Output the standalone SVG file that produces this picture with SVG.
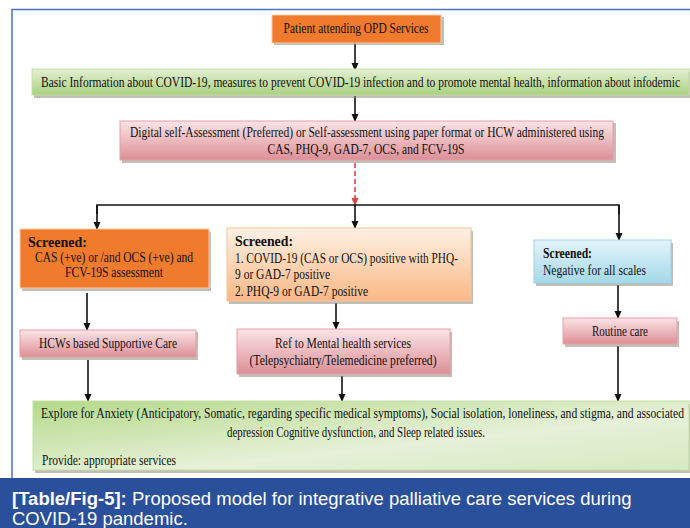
<svg xmlns="http://www.w3.org/2000/svg" width="690" height="528" viewBox="0 0 690 528">
<defs>
<style>
.t{font-family:"Liberation Serif","Times New Roman",serif;font-size:14px;fill:#111}
.s{font-size:11.5px}
.b{font-weight:bold}
.c{text-anchor:middle}
.ln{stroke:#111;stroke-width:1.6;fill:none}
.sh{fill:#8a8a7a;opacity:0.55}
.cap{font-family:"Liberation Sans",Arial,sans-serif;font-size:18.5px;fill:#fff}
</style>
<marker id="ah" markerWidth="8" markerHeight="8" refX="7" refY="4" orient="auto" markerUnits="userSpaceOnUse">
<path d="M0,0.5 L8,4 L0,7.5 z" fill="#111"/>
</marker>
<marker id="ahr" markerWidth="8" markerHeight="8" refX="7" refY="4" orient="auto" markerUnits="userSpaceOnUse">
<path d="M0,0.5 L8,4 L0,7.5 z" fill="#d9463f"/>
</marker>
<linearGradient id="gGreen" x1="0" y1="0" x2="0" y2="1">
<stop offset="0" stop-color="#e4f0d2"/><stop offset="1" stop-color="#a9d07f"/>
</linearGradient>
<linearGradient id="gPink" x1="0" y1="0" x2="0" y2="1">
<stop offset="0" stop-color="#fbe4e6"/><stop offset="1" stop-color="#dc8f96"/>
</linearGradient>
<linearGradient id="gPeach" x1="0" y1="0" x2="0" y2="1">
<stop offset="0" stop-color="#fff1e4"/><stop offset="1" stop-color="#f9b886"/>
</linearGradient>
<linearGradient id="gBlue" x1="0" y1="0" x2="0" y2="1">
<stop offset="0" stop-color="#e3f4fa"/><stop offset="1" stop-color="#a4d8ea"/>
</linearGradient>
<linearGradient id="gBig" x1="0" y1="0" x2="1" y2="1">
<stop offset="0" stop-color="#b5d98a"/><stop offset="0.6" stop-color="#e6f1d8"/><stop offset="1" stop-color="#d6e9bf"/>
</linearGradient>
</defs>
<rect x="0" y="0" width="690" height="528" fill="#fff"/>
<rect x="12" y="9.5" width="690" height="470" fill="none" stroke="#4d72c2" stroke-width="1.5"/>

<g id="connectors">
<line class="ln" x1="355" y1="43" x2="355" y2="70" marker-end="url(#ah)"/>
<line class="ln" x1="355" y1="96" x2="355" y2="121" marker-end="url(#ah)"/>
<line x1="355" y1="163" x2="355" y2="205" stroke="#d9463f" stroke-width="1.6" stroke-dasharray="5,3" marker-end="url(#ahr)"/>
<polyline class="ln" points="97,214 97,205 619,205 619,214"/>
<line class="ln" x1="97" y1="205" x2="97" y2="229" marker-end="url(#ah)"/>
<line class="ln" x1="355" y1="205" x2="355" y2="228" marker-end="url(#ah)"/>
<line class="ln" x1="619" y1="205" x2="619" y2="240" marker-end="url(#ah)"/>
<line class="ln" x1="87" y1="293" x2="87" y2="330" marker-end="url(#ah)"/>
<line class="ln" x1="336" y1="303" x2="336" y2="329" marker-end="url(#ah)"/>
<line class="ln" x1="618" y1="285" x2="618" y2="318" marker-end="url(#ah)"/>
<line class="ln" x1="88" y1="360" x2="88" y2="401" marker-end="url(#ah)"/>
<line class="ln" x1="342" y1="376" x2="342" y2="401" marker-end="url(#ah)"/>
<line class="ln" x1="618" y1="346" x2="618" y2="401" marker-end="url(#ah)"/>
</g>

<g id="patient">
<rect class="sh" x="274" y="17" width="170" height="28"/>
<rect x="272" y="15" width="169" height="28" fill="#f07b2d" stroke="#f8c9a8" stroke-width="1"/>
<text class="t c" x="356" y="33" textLength="145" lengthAdjust="spacingAndGlyphs">Patient attending OPD Services</text>
</g>

<g id="basic">
<rect class="sh" x="34" y="72" width="656" height="26"/>
<rect x="32" y="69" width="657" height="26" fill="url(#gGreen)" stroke="#c4dfa6" stroke-width="1"/>
<text class="t s" transform="translate(41,87) scale(1,1.2)" x="0" y="0" textLength="639" lengthAdjust="spacingAndGlyphs">Basic Information about COVID-19, measures to prevent COVID-19 infection and to promote mental health, information about infodemic</text>
</g>

<g id="assessment">
<rect class="sh" x="122" y="123" width="494" height="40"/>
<rect x="120" y="121" width="493" height="39" fill="url(#gPink)" stroke="#e5a0a6" stroke-width="1"/>
<text class="t s" transform="translate(130,137) scale(1,1.2)" x="0" y="0" textLength="474" lengthAdjust="spacingAndGlyphs">Digital self-Assessment (Preferred) or Self-assessment using paper format or HCW administered using</text>
<text class="t c" x="366" y="153.5" textLength="197" lengthAdjust="spacingAndGlyphs">CAS, PHQ-9, GAD-7, OCS, and FCV-19S</text>
</g>

<g id="screened-left">
<rect class="sh" x="22" y="232" width="189" height="59"/>
<rect x="20" y="229" width="189" height="59" fill="#f07b2d" stroke="#f8c9a8" stroke-width="1"/>
<text class="t b" x="28" y="247" textLength="59" lengthAdjust="spacingAndGlyphs">Screened:</text>
<text class="t c" x="114" y="262" textLength="158" lengthAdjust="spacingAndGlyphs">CAS (+ve) or /and OCS (+ve) and</text>
<text class="t c" x="114" y="277" textLength="98" lengthAdjust="spacingAndGlyphs">FCV-19S assessment</text>
</g>

<g id="screened-mid">
<rect class="sh" x="229" y="231" width="244" height="73"/>
<rect x="227" y="228" width="244" height="73" fill="url(#gPeach)" stroke="#f6c39b" stroke-width="1"/>
<text class="t b" x="235" y="246" textLength="58" lengthAdjust="spacingAndGlyphs">Screened:</text>
<text class="t" x="235" y="263" textLength="223" lengthAdjust="spacingAndGlyphs">1. COVID-19 (CAS or OCS) positive with PHQ-</text>
<text class="t" x="235" y="279" textLength="95" lengthAdjust="spacingAndGlyphs">9 or GAD-7 positive</text>
<text class="t" x="235" y="295.5" textLength="133" lengthAdjust="spacingAndGlyphs">2. PHQ-9 or GAD-7 positive</text>
</g>

<g id="screened-right">
<rect class="sh" x="536" y="243" width="137" height="43"/>
<rect x="534" y="240" width="137" height="43" fill="url(#gBlue)" stroke="#9fd2e4" stroke-width="1"/>
<text class="t b" x="543" y="258" textLength="49" lengthAdjust="spacingAndGlyphs">Screened:</text>
<text class="t" x="543" y="275" textLength="103" lengthAdjust="spacingAndGlyphs">Negative for all scales</text>
</g>

<g id="hcw-care">
<rect class="sh" x="22" y="332" width="176" height="28"/>
<rect x="20" y="330" width="176" height="27" fill="url(#gPink)" stroke="#e5a0a6" stroke-width="1"/>
<text class="t c" x="108" y="348" textLength="138" lengthAdjust="spacingAndGlyphs">HCWs based Supportive Care</text>
</g>

<g id="ref-mental">
<rect class="sh" x="239" y="332" width="213" height="45"/>
<rect x="237" y="329" width="213" height="45" fill="url(#gPink)" stroke="#e5a0a6" stroke-width="1"/>
<text class="t c" x="343" y="347.5" textLength="136" lengthAdjust="spacingAndGlyphs">Ref to Mental health services</text>
<text class="t c" x="343" y="365" textLength="187" lengthAdjust="spacingAndGlyphs">(Telepsychiatry/Telemedicine preferred)</text>
</g>

<g id="routine">
<rect class="sh" x="565" y="321" width="114" height="26"/>
<rect x="563" y="318" width="114" height="26" fill="url(#gPink)" stroke="#e5a0a6" stroke-width="1"/>
<text class="t c" x="620" y="336" textLength="56" lengthAdjust="spacingAndGlyphs">Routine care</text>
</g>

<g id="explore">
<rect class="sh" x="35" y="404" width="655" height="69"/>
<rect x="33" y="401" width="656" height="69" fill="url(#gBig)" stroke="#c4dfa6" stroke-width="1"/>
<text class="t s" transform="translate(41,417.5) scale(1,1.2)" x="0" y="0" textLength="643" lengthAdjust="spacingAndGlyphs">Explore for Anxiety (Anticipatory, Somatic, regarding specific medical symptoms), Social isolation, loneliness, and stigma, and associated</text>
<text class="t c" x="356" y="436.5" textLength="258" lengthAdjust="spacingAndGlyphs">depression Cognitive dysfunction, and Sleep related issues.</text>
<text class="t" x="42" y="464.5" textLength="134" lengthAdjust="spacingAndGlyphs">Provide: appropriate services</text>
</g>

<g id="caption">
<rect x="0" y="478" width="690" height="50" fill="#2a4f9b"/>
<text class="cap" x="12" y="505"><tspan font-weight="bold">[Table/Fig-5]:</tspan> Proposed model for integrative palliative care services during</text>
<text class="cap" x="12" y="525">COVID-19 pandemic.</text>
</g>
</svg>
